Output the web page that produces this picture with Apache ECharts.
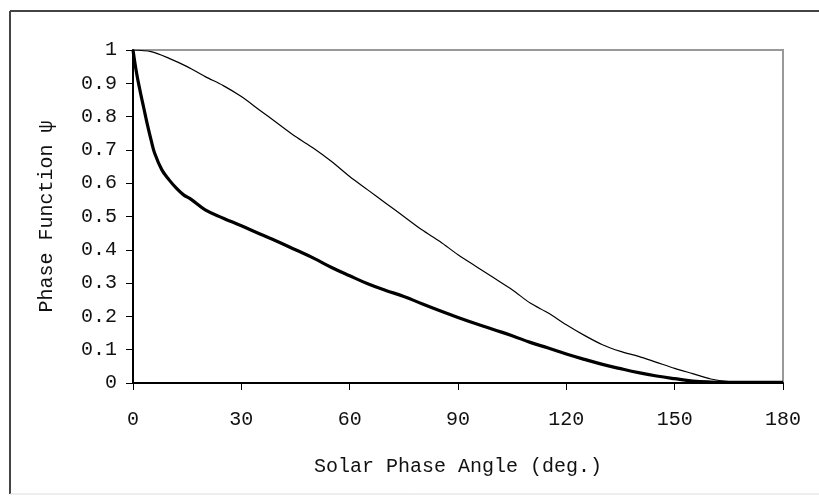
<!DOCTYPE html>
<html>
<head>
<meta charset="utf-8">
<script src="https://cdn.jsdelivr.net/npm/echarts@6/dist/echarts.min.js"></script>
<style>html,body{margin:0;padding:0;background:#fff}#c{width:819px;height:500px}</style>
</head>
<body>
<div id="c"></div>
<script>
var xTicks = [0, 30, 60, 90, 120, 150, 180];
var yTicks = [0, 0.1, 0.2, 0.3, 0.4, 0.5, 0.6, 0.7, 0.8, 0.9, 1];

var thinAngles = [0, 5, 10, 15, 20, 25, 30, 35, 40, 45, 50, 55, 60, 65, 70, 75, 80, 85, 90, 95, 100, 105, 110, 115, 120, 125, 130, 135, 140, 145, 150, 155, 160, 165, 170, 175, 180];
var thinValues = [1.0, 0.995, 0.975, 0.95, 0.92, 0.893, 0.86, 0.82, 0.78, 0.74, 0.705, 0.665, 0.62, 0.58, 0.54, 0.50, 0.46, 0.425, 0.385, 0.35, 0.315, 0.28, 0.24, 0.21, 0.175, 0.143, 0.115, 0.095, 0.08, 0.062, 0.044, 0.028, 0.012, 0.004, 0.002, 0.001, 0];

var thickAngles = [0, 1, 2, 3, 4, 5, 6, 8, 10, 12, 14, 16, 20, 25, 30, 35, 40, 45, 50, 55, 60, 65, 70, 75, 80, 85, 90, 95, 100, 105, 110, 115, 120, 125, 130, 135, 140, 145, 150, 155, 160, 165, 170, 180];
var thickValues = [1.0, 0.93, 0.875, 0.825, 0.775, 0.73, 0.69, 0.64, 0.61, 0.585, 0.565, 0.552, 0.52, 0.495, 0.472, 0.448, 0.425, 0.40, 0.375, 0.347, 0.322, 0.298, 0.278, 0.26, 0.238, 0.217, 0.197, 0.178, 0.16, 0.142, 0.122, 0.105, 0.087, 0.071, 0.056, 0.043, 0.031, 0.021, 0.013, 0.006, 0.003, 0.002, 0.002, 0.002];

function pairs(xs, ys) { return xs.map(function (x, i) { return [x, ys[i]]; }); }

var FONT = 'Liberation Mono';
var chart = echarts.init(document.getElementById('c'), null, {renderer: 'canvas'});
chart.setOption({
  animation: false,
  backgroundColor: '#fff',
  graphic: [
    {type: 'line', shape: {x1: 10, y1: 11, x2: 819, y2: 11}, style: {stroke: '#444', lineWidth: 2}, silent: true},
    {type: 'line', shape: {x1: 10, y1: 11, x2: 10, y2: 494}, style: {stroke: '#444', lineWidth: 2}, silent: true},
    {type: 'line', shape: {x1: 10, y1: 494, x2: 819, y2: 494}, style: {stroke: '#ddd', lineWidth: 1}, silent: true}
  ],
  grid: {left: 133, right: 36, top: 50, bottom: 117, show: true, borderColor: '#999', borderWidth: 2, backgroundColor: '#fff'},
  xAxis: {
    type: 'value', min: 0, max: 180, interval: 30,
    name: 'Solar Phase Angle (deg.)', nameLocation: 'middle', nameGap: 74,
    nameTextStyle: {fontFamily: FONT, fontSize: 20, color: '#111'},
    axisLine: {show: true, onZero: false, lineStyle: {color: '#000', width: 2}},
    axisTick: {show: true, inside: false, length: 7, lineStyle: {color: '#000', width: 1}},
    axisLabel: {margin: 27, fontFamily: FONT, fontSize: 20, color: '#111',
      formatter: function (v) { return xTicks.indexOf(v) >= 0 ? String(v) : ''; }},
    splitLine: {show: false}
  },
  yAxis: {
    type: 'value', min: 0, max: 1, interval: 0.1,
    name: 'Phase Function ψ', nameLocation: 'middle', nameGap: 76, nameRotate: 90,
    nameTextStyle: {fontFamily: FONT, fontSize: 20, color: '#111'},
    axisLine: {show: true, onZero: false, lineStyle: {color: '#000', width: 2}},
    axisTick: {show: true, inside: false, length: 7, lineStyle: {color: '#000', width: 1}},
    axisLabel: {margin: 16, fontFamily: FONT, fontSize: 20, color: '#111',
      formatter: function (v) {
        var r = Math.round(v * 10) / 10;
        return yTicks.indexOf(r) >= 0 ? String(r) : '';
      }},
    splitLine: {show: false}
  },
  series: [
    {type: 'line', data: pairs(thinAngles, thinValues), showSymbol: false, smooth: 0.3,
      lineStyle: {color: '#000', width: 1.2}, z: 3},
    {type: 'line', data: pairs(thickAngles, thickValues), showSymbol: false, smooth: 0.4,
      lineStyle: {color: '#000', width: 3.2}, z: 4}
  ]
});
</script>
</body>
</html>
